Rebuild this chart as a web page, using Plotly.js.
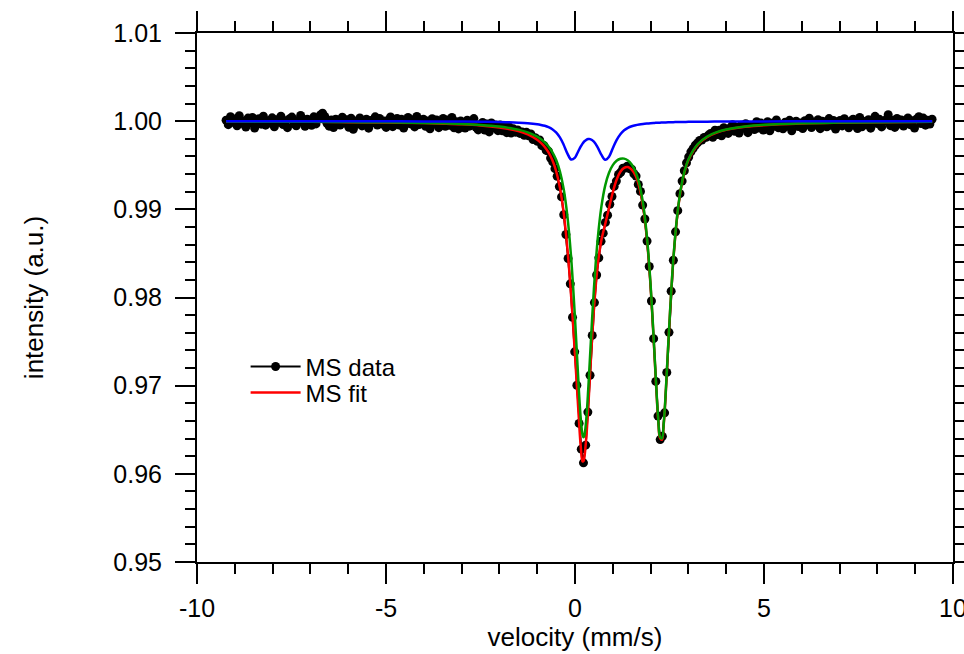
<!DOCTYPE html>
<html>
<head>
<meta charset="utf-8">
<script src="https://cdn.plot.ly/plotly-3.0.1.min.js"></script>
<style>html,body{margin:0;padding:0;background:#fff;}#chart{width:964px;height:654px;}</style>
</head>
<body>
<div id="chart"></div>
<script>
// Measured Mossbauer spectrum: channels start at -9.23 mm/s, step 0.058 mm/s
const dataStart = -9.23;
const dataStep = 0.058;
const dataIntensity = [
1.00011,0.99960,1.00051,0.99987,1.00024,0.99947,1.00062,0.99976,1.00003,0.99934,
1.00035,0.99982,1.00043,0.99923,1.00014,1.00027,0.99966,1.00056,0.99955,1.00000,
0.99978,1.00038,0.99937,1.00017,0.99988,1.00057,0.99961,1.00006,0.99926,1.00028,
1.00046,0.99969,0.99948,1.00009,1.00065,0.99983,0.99942,1.00022,0.99996,0.99953,
1.00049,0.99969,1.00033,1.00071,1.00091,1.00055,0.99975,0.99943,1.00013,0.99927,
1.00023,1.00001,0.99956,1.00045,0.99978,1.00015,0.99930,1.00033,0.99908,0.99959,
1.00004,1.00036,0.99946,0.99994,1.00023,0.99921,1.00007,0.99982,1.00049,0.99956,
1.00030,0.99969,1.00001,0.99929,1.00012,1.00047,0.99938,0.99986,1.00031,0.99957,
1.00021,0.99922,1.00002,1.00041,0.99970,1.00015,0.99935,1.00053,0.99961,0.99993,
1.00022,0.99942,1.00003,0.99913,1.00028,0.99967,1.00012,0.99926,0.99993,1.00031,
0.99941,1.00012,0.99954,1.00042,0.99925,0.99992,0.99912,1.00002,0.99968,0.99922,
1.00010,0.99943,0.99991,1.00029,0.99930,0.99901,0.99961,0.99986,0.99900,0.99967,
0.99878,0.99980,0.99924,0.99956,0.99892,0.99957,0.99890,0.99938,0.99870,0.99937,
0.99866,0.99913,0.99875,0.99901,0.99861,0.99878,0.99839,0.99873,0.99835,0.99855,
0.99792,0.99813,0.99772,0.99787,0.99722,0.99723,0.99668,0.99660,0.99581,0.99538,
0.99461,0.99375,0.99258,0.99141,0.98939,0.98715,0.98442,0.98155,0.97775,0.97384,
0.97005,0.96572,0.96280,0.96125,0.96325,0.96700,0.97118,0.97570,0.97942,0.98255,
0.98450,0.98637,0.98730,0.98852,0.98934,0.99058,0.99145,0.99260,0.99320,0.99396,
0.99420,0.99467,0.99469,0.99489,0.99461,0.99456,0.99403,0.99377,0.99283,0.99203,
0.99048,0.98890,0.98640,0.98352,0.97960,0.97533,0.97048,0.96655,0.96388,0.96425,
0.96692,0.97150,0.97605,0.98072,0.98422,0.98745,0.98985,0.99178,0.99320,0.99438,
0.99527,0.99593,0.99652,0.99689,0.99727,0.99753,0.99782,0.99787,0.99815,0.99817,
0.99840,0.99861,0.99817,0.99898,0.99848,0.99897,0.99834,0.99925,0.99904,0.99861,
0.99925,0.99959,0.99886,0.99932,0.99866,0.99954,0.99920,0.99971,0.99870,0.99952,
0.99941,0.99905,0.99993,0.99922,0.99978,0.99900,0.99960,0.99993,0.99891,0.99975,
0.99941,1.00013,0.99924,0.99963,0.99913,0.99988,0.99941,1.00009,0.99890,0.99979,
0.99999,0.99939,0.99979,0.99916,1.00006,0.99963,1.00034,0.99928,0.99990,0.99956,
1.00017,0.99915,0.99999,0.99977,0.99937,1.00029,0.99954,1.00008,0.99910,0.99987,
1.00007,0.99946,1.00027,0.99966,0.99925,1.00002,1.00022,0.99951,0.99917,1.00042,
0.99936,0.99997,0.99963,1.00017,0.99921,1.00008,1.00055,0.99973,1.00021,0.99935,
0.99997,1.00016,1.00074,0.99949,1.00007,0.99929,1.00030,0.99969,1.00014,0.99944,
0.99996,1.00037,0.99960,1.00005,0.99922,1.00025,1.00051,0.99974,1.00035,0.99955,
1.00011,0.99968,1.00022
];

// Fit curves sampled at these velocities (mm/s)
const fitVelocity = [-9.23,-8,-7,-6,-5,-4,-3.5,-3,-2.5,-2,-1.75,-1.5,-1.25,-1,-0.9,-0.8,-0.7,-0.6,-0.5,-0.4,
-0.3,-0.2,-0.1,0,0.05,0.1,0.15,0.2,0.225,0.25,0.3,0.35,0.4,0.5,0.6,0.7,0.8,0.9,1.0,1.1,
1.2,1.3,1.4,1.5,1.6,1.7,1.8,1.9,2.0,2.1,2.15,2.2,2.25,2.3,2.35,2.4,2.5,2.6,2.7,2.8,
2.9,3.0,3.25,3.5,3.75,4.0,4.5,5,6,7,8,9.45];

// total fit (red)
const fitTotal = [0.99995,0.99993,0.99992,0.99989,0.99985,0.99978,0.99972,0.99964,0.99951,0.99929,
0.99912,0.99887,0.99850,0.99789,0.99753,0.99707,0.99645,0.99559,0.99435,0.99247,
0.98964,0.98550,0.98004,0.97350,0.96993,0.96641,0.96320,0.96140,0.96145,0.96195,
0.96419,0.96755,0.97144,0.97863,0.98364,0.98654,0.98835,0.99013,0.99194,0.99336,
0.99426,0.99471,0.99479,0.99451,0.99383,0.99255,0.99035,0.98675,0.98122,0.97370,
0.96967,0.96619,0.96404,0.96386,0.96573,0.96909,0.97722,0.98418,0.98907,0.99225,
0.99427,0.99558,0.99734,0.99820,0.99870,0.99901,0.99936,0.99955,0.99974,0.99983,0.99988,0.99992];

// main doublet component (green)
const fitMain = [0.99996,0.99994,0.99993,0.99990,0.99987,0.99980,0.99975,0.99968,0.99957,0.99939,
0.99924,0.99904,0.99873,0.99824,0.99796,0.99760,0.99713,0.99650,0.99562,0.99432,
0.99231,0.98918,0.98439,0.97763,0.97366,0.96971,0.96638,0.96442,0.96415,0.96439,
0.96630,0.96958,0.97348,0.98095,0.98660,0.99036,0.99272,0.99415,0.99501,0.99550,
0.99573,0.99575,0.99555,0.99509,0.99429,0.99293,0.99067,0.98702,0.98145,0.97390,
0.96986,0.96636,0.96420,0.96402,0.96588,0.96923,0.97734,0.98429,0.98918,0.99235,
0.99436,0.99566,0.99741,0.99826,0.99875,0.99905,0.99939,0.99958,0.99976,0.99984,0.99989,0.99993];

// minor doublet component (blue)
const fitMinor = [0.999995,0.999993,0.999991,0.999987,0.999982,0.999973,0.999965,0.999953,0.999934,0.999901,
0.999873,0.999832,0.999766,0.999649,0.999574,0.999472,0.999322,0.999091,0.998726,0.998156,
0.997326,0.996325,0.995645,0.995876,0.996264,0.996700,0.997113,0.997457,0.997598,0.997718,
0.997888,0.997968,0.997960,0.997673,0.997035,0.996179,0.995621,0.995972,0.996930,0.997855,
0.998527,0.998965,0.999242,0.999419,0.999538,0.999622,0.999683,0.999731,0.999769,0.999799,
0.999812,0.999823,0.999834,0.999843,0.999852,0.999860,0.999874,0.999887,0.999897,0.999906,
0.999914,0.999921,0.999935,0.999945,0.999953,0.999960,0.999969,0.999976,0.999984,0.999988,0.999991,0.999994];

const xTickVals = [-10,-5,0,5,10];
const xTickText = ['-10','-5','0','5','10'];
const xMinorTickVals = [-10,-9,-8,-7,-6,-5,-4,-3,-2,-1,0,1,2,3,4,5,6,7,8,9,10];
const yTickVals = [0.95,0.96,0.97,0.98,0.99,1.00,1.01];
const yTickText = ['0.95','0.96','0.97','0.98','0.99','1.00','1.01'];
const yMinorTickVals = [0.950,0.952,0.954,0.956,0.958,0.960,0.962,0.964,0.966,0.968,0.970,
  0.972,0.974,0.976,0.978,0.980,0.982,0.984,0.986,0.988,0.990,
  0.992,0.994,0.996,0.998,1.000,1.002,1.004,1.006,1.008,1.010];
const xRange = [-10,10];
const yRange = [0.95,1.01];

const traces = [
  {x0: dataStart, dx: dataStep, y: dataIntensity, type:'scatter', mode:'lines+markers', name:'MS data',
   legend:'legend', line:{color:'black', width:2}, marker:{color:'black', size:9}},
  {x: fitVelocity, y: fitTotal, type:'scatter', mode:'lines', name:'MS fit', legend:'legend2',
   line:{color:'#ff0000', width:2.5, shape:'spline'}},
  {x: fitVelocity, y: fitMain, type:'scatter', mode:'lines', name:'component 1', showlegend:false,
   line:{color:'#009900', width:2.5, shape:'spline'}},
  // blue component drawn on the overlay axes (same ranges) that carry the top/right minor ticks
  {x: fitVelocity, y: fitMinor, xaxis:'x2', yaxis:'y2', type:'scatter', mode:'lines', name:'component 2', showlegend:false,
   line:{color:'#0000ff', width:2.5, shape:'spline'}}
];

const tickStyle = {ticks:'outside', ticklen:20, tickwidth:2, tickcolor:'black',
  showgrid:false, zeroline:false, tickfont:{size:25, color:'black'}};

const layout = {
  width:964, height:654,
  margin:{l:197, r:11, t:33, b:92, pad:0},
  paper_bgcolor:'white', plot_bgcolor:'white',
  font:{family:'"Liberation Sans", Arial, Helvetica, sans-serif', size:25, color:'black'},
  showlegend:true,
  legend:{x:0.0643, y:0.4114, xanchor:'left', yanchor:'top', bgcolor:'rgba(0,0,0,0)',
          borderwidth:0, font:{size:24}, itemwidth:50},
  legend2:{x:0.0643, y:0.3622, xanchor:'left', yanchor:'top', bgcolor:'rgba(0,0,0,0)',
          borderwidth:0, font:{size:24}, itemwidth:50},
  xaxis: Object.assign({}, tickStyle, {
    range:xRange, tickmode:'array', tickvals:xTickVals, ticktext:xTickText,
    showline:true, linewidth:2, linecolor:'black', mirror:'allticks',
    minor:{dtick:1, tick0:-10, ticks:'outside', ticklen:10, tickwidth:2, tickcolor:'black', showgrid:false},
    ticklabelstandoff:3, ticklabeloverflow:'allow',
    title:{text:'velocity (mm/s)', font:{size:26}, standoff:0}
  }),
  yaxis: Object.assign({}, tickStyle, {
    range:yRange, tickmode:'array', tickvals:yTickVals, ticktext:yTickText,
    showline:true, linewidth:2, linecolor:'black', mirror:'allticks',
    minor:{dtick:0.002, tick0:0.95, ticks:'outside', ticklen:10, tickwidth:2, tickcolor:'black', showgrid:false},
    ticklabelstandoff:8, ticklabeloverflow:'allow',
    title:{text:'intensity (a.u.)', font:{size:26}, standoff:62}
  }),
  xaxis2: Object.assign({}, tickStyle, {
    overlaying:'x', side:'top', anchor:'y2', range:xRange, tickmode:'array', tickvals:xMinorTickVals,
    ticklen:10, tickcolor:'black', tickwidth:2, showticklabels:false, showline:false
  }),
  yaxis2: Object.assign({}, tickStyle, {
    overlaying:'y', side:'right', anchor:'x2', range:yRange, tickmode:'array', tickvals:yMinorTickVals,
    ticklen:10, tickcolor:'black', tickwidth:2, showticklabels:false, showline:false
  })
};

Plotly.newPlot('chart', traces, layout, {staticPlot:true, displayModeBar:false});
</script>
</body>
</html>
